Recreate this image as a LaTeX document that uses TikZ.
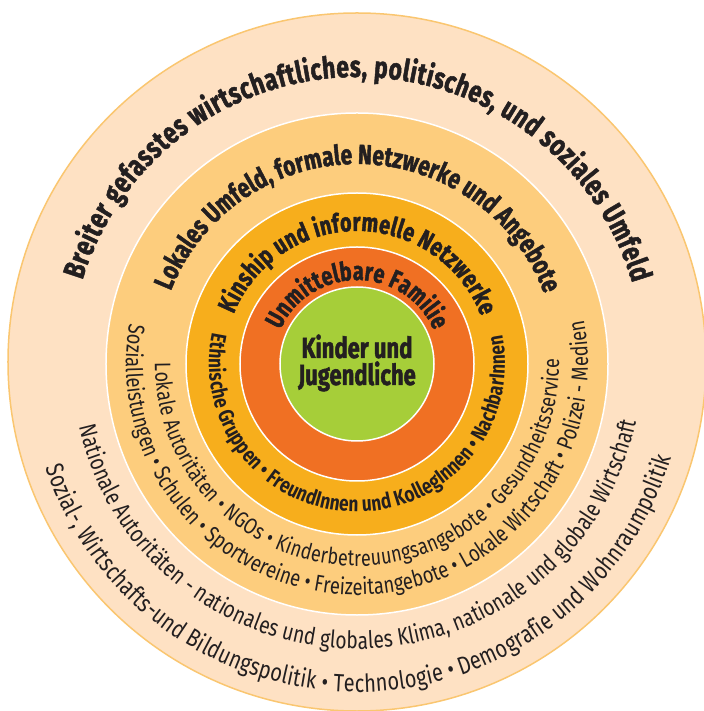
\documentclass[tikz,border=0pt]{standalone}
\usepackage{fontspec}
\setmainfont{Fira Sans}[FakeStretch=0.8]
\newfontfamily\headface{Fira Sans}[FakeStretch=0.76, BoldFeatures={FakeBold=1.6}]
\usetikzlibrary{decorations.text}

\definecolor{outerring}{RGB}{254,225,195}
\definecolor{outerline}{RGB}{250,198,112}
\definecolor{localring}{RGB}{253,205,125}
\definecolor{kinring}{RGB}{247,174,28}
\definecolor{familyring}{RGB}{240,112,35}
\definecolor{childcore}{RGB}{166,206,57}
\definecolor{inktext}{RGB}{35,31,32}

\newcommand{\heading}[1]{\headface\fontsize{#1}{#1}\selectfont\bfseries}
\newcommand{\listing}[1]{\fontsize{#1}{#1}\selectfont}

\tikzset{
  ring/.style={draw=white, line width=1.5pt},
  arctext/.style={decorate, decoration={text along path, text align=fit to path,
      text color=inktext, text={#1}}},
  kidtext/.style={anchor=base, text=inktext, font=\heading{29}}
}

\begin{document}
\begin{tikzpicture}
    \useasboundingbox (-357pt,-347pt) rectangle (346pt,364pt);
    %% the five rings, outside in
    \filldraw[fill=outerring, draw=outerline, line width=1.5pt] (0pt,2pt) circle[radius=349pt];
    \filldraw[ring, fill=localring] (0,0) circle[radius=251pt];
    \filldraw[ring, fill=kinring] (0,0) circle[radius=171pt];
    \filldraw[ring, fill=familyring] (0,0) circle[radius=117pt];
    \filldraw[ring, fill=childcore] (0,0) circle[radius=77pt];
    \node[kidtext] (kids) at (0pt,6pt) {Kinder und};
    \node[kidtext] (youth) at (0pt,-21pt) {Jugendliche};
    %% titles over the top, clockwise
    \path[arctext={|\heading{30}|Breiter gefasstes wirtschaftliches, politisches, und soziales Umfeld}]
        (163:287pt) arc[start angle=163, end angle=16.4, radius=287pt];
    \path[arctext={|\heading{27.5}|Lokales Umfeld, formale Netzwerke und Angebote}]
        (158.6:200pt) arc[start angle=158.6, end angle=20.5, radius=200pt];
    \path[arctext={|\heading{26}|Kinship und informelle Netzwerke}]
        (158:133pt) arc[start angle=158, end angle=21, radius=133pt];
    \path[arctext={|\heading{26}|Unmittelbare Familie}]
        (156:84pt) arc[start angle=156, end angle=23.5, radius=84pt];
    %% lists along the bottom, counter-clockwise
    \path[arctext={|\listing{21.5}\bfseries|Ethnische Gruppen • FreundInnen und KollegInnen • NachbarInnen}]
        (167.9:148pt) arc[start angle=167.9, end angle=371.2, radius=148pt];
    \path[arctext={|\listing{22.5}|Lokale Autoritäten • NGOs • Kinderbetreuungsangebote • Gesundheitsservice}]
        (179.7:202pt) arc[start angle=179.7, end angle=361.5, radius=202pt];
    \path[arctext={|\listing{23}|Sozialleistungen • Schulen • Sportvereine • Freizeitangebote • Lokale Wirtschaft • Polizei - Medien}]
        (170:231pt) arc[start angle=170, end angle=371, radius=231pt];
    \path[arctext={|\listing{24}|Nationale Autoritäten - nationales und globales Klima, nationale und globale Wirtschaft}]
        (192.7:285pt) arc[start angle=192.7, end angle=348.3, radius=285pt];
    \path[arctext={|\listing{25}|Sozial-, Wirtschafts-und Bildungspolitik • Technologie • Demografie und Wohnraumpolitik}]
        (198.4:328pt) arc[start angle=198.4, end angle=343.4, radius=328pt];
\end{tikzpicture}
\end{document}
